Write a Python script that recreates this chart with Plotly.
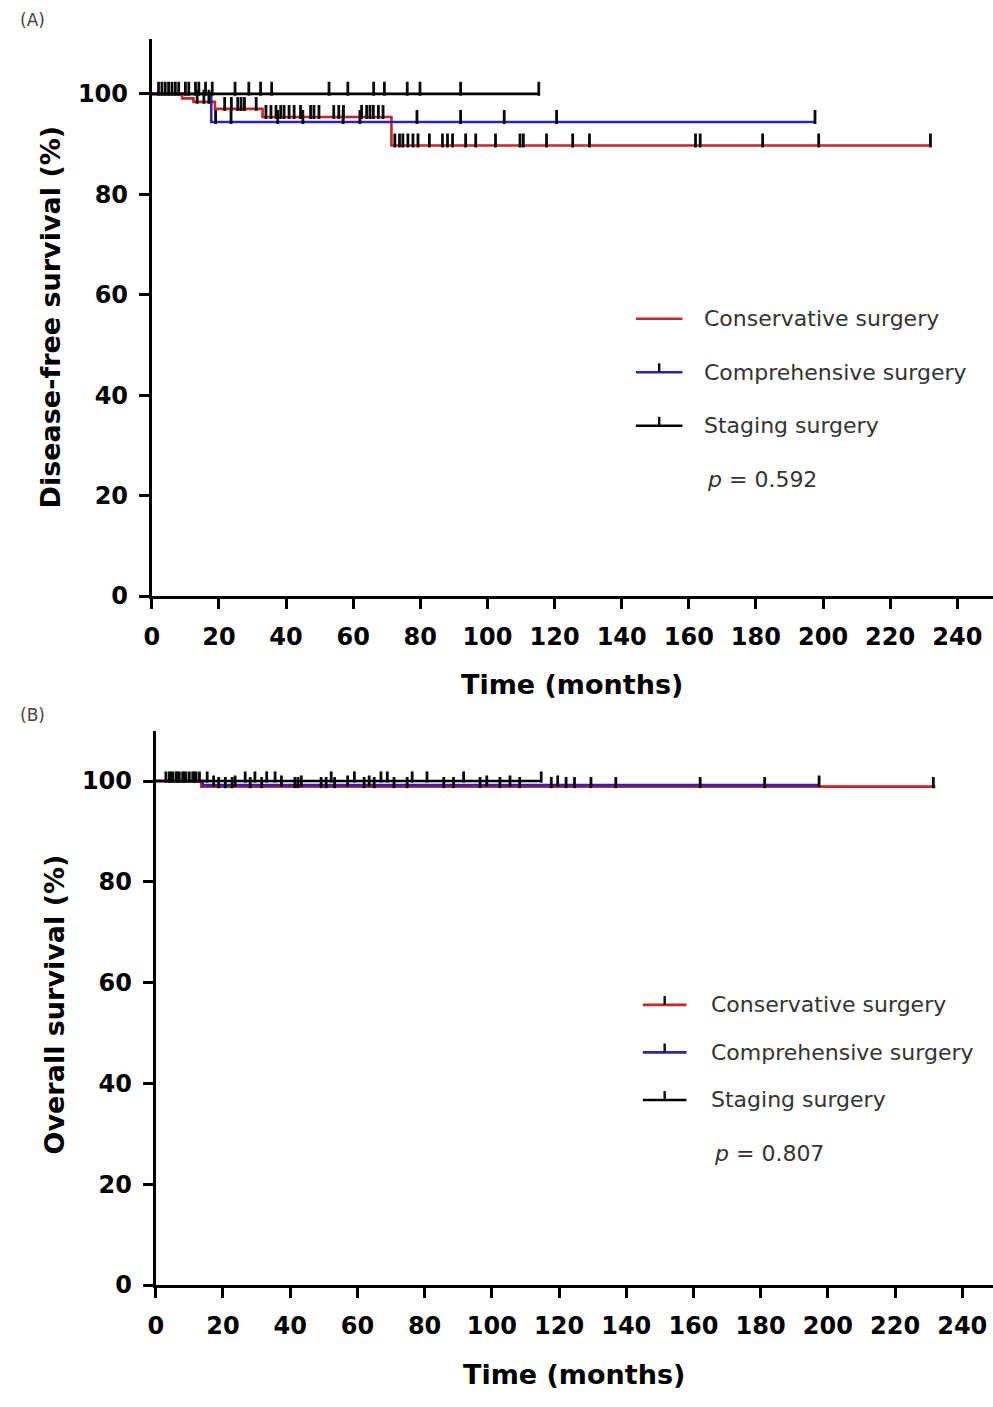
import plotly.graph_objects as go

W, H = 993, 1407

# ---------------- Panel A: Disease-free survival ----------------
a_cons_t = [0, 9, 12.4, 18.8, 33, 71.4, 232]
a_cons_s = [100, 99.1, 98.4, 97.0, 95.4, 89.7, 89.7]
a_comp_t = [0, 17.7, 197.6]
a_comp_s = [100, 94.4, 94.4]
a_stag_t = [0, 115.3]
a_stag_s = [100, 100]

a_cons_cens = [13.5, 15.5, 17, 21.7, 23.7, 25.6, 26.6, 27.6, 31.1,
               34.0, 35.5, 37.0, 38.4, 39.4, 40.9, 42.4, 44.3, 47.3, 48.3, 49.8,
               54.2, 55.7, 57.1, 62.5, 64.0, 65.0, 66.0, 67.5, 68.9,
               72.4, 73.8, 74.8, 76.3, 77.8, 79.3, 82.7, 86.6, 88.1, 89.6, 93.5,
               96.5, 102.4, 109.7, 110.7, 117.6, 125.4, 130.4, 162, 163.4, 182,
               198.7, 232]
a_comp_cens = [19, 23.6, 37.5, 45, 57, 62, 79, 92, 105, 120.6, 197.6]
a_stag_cens = [2, 3, 4, 5, 6, 7, 8, 10, 11, 13, 14, 16, 18,
               24.8, 28.9, 32.4, 35.7, 52.8, 58.4, 66.1, 69.3, 76.1, 79.9, 92.0, 115.3]

# ---------------- Panel B: Overall survival ----------------
b_cons_t = [0, 13.5, 232]
b_cons_s = [100, 98.9, 98.9]
b_comp_t = [0, 14, 197.4]
b_comp_s = [100, 99.2, 99.2]
b_stag_t = [0, 114.7]
b_stag_s = [100, 100]

b_cons_cens = [4.5, 6.5, 8.5, 11.5, 13, 18.7, 20.7, 22.7, 28.1, 31.5, 41.4, 42.3,
               49.2, 50.7, 53.2, 62, 65, 70.9, 74.8, 85.7, 88.6, 96.5, 102.4, 108.3,
               117.7, 122.1, 124.6, 129.5, 136.9, 162, 181.2, 231.4]
b_comp_cens = [17.2, 23.6, 37.4, 43.3, 57.1, 63.5, 98.5, 105.4, 119.6, 197.4]
b_stag_cens = [3, 4, 5, 6, 7, 8, 9, 10, 11, 12, 15.3, 26.6, 29.5, 33, 35.5, 52.2,
               59.1, 67, 68.9, 76.3, 80.7, 91.6, 114.7]

groups = ["Conservative surgery", "Comprehensive surgery", "Staging surgery"]
colors = ["#c8262c", "#2828a8", "#000000"]
tick_color = "#0a0a0a"
x_ticks = list(range(0, 241, 20))
y_ticks = list(range(0, 101, 20))
p_a = "0.592"
p_b = "0.807"

FONT = "DejaVu Sans"


def surv_at(ts, ss, t):
    v = ss[0]
    for ti, si in zip(ts, ss):
        if ti <= t:
            v = si
    return v


fig = go.Figure()

panels = [
    ("x", "y",
     [(a_cons_t, a_cons_s, a_cons_cens), (a_comp_t, a_comp_s, a_comp_cens), (a_stag_t, a_stag_s, a_stag_cens)],
     1.0, 10),
    ("x2", "y2",
     [(b_cons_t, b_cons_s, b_cons_cens), (b_comp_t, b_comp_s, b_comp_cens), (b_stag_t, b_stag_s, b_stag_cens)],
     0.8, 8),
]

for xa, ya, series, off, msize in panels:
    for (ts, ss, cens), name, col in zip(series, groups, colors):
        fig.add_trace(go.Scatter(
            x=ts, y=ss, mode="lines", line=dict(color=col, width=2.6, shape="hv"),
            xaxis=xa, yaxis=ya, showlegend=False, name=name, hoverinfo="skip"))
    for (ts, ss, cens), name, col in zip(series, groups, colors):
        ys = [surv_at(ts, ss, c) + off for c in cens]
        fig.add_trace(go.Scatter(
            x=cens, y=ys, mode="markers",
            marker=dict(symbol="line-ns", size=msize, line=dict(color=tick_color, width=2.8)),
            xaxis=xa, yaxis=ya, showlegend=False, name=name, hoverinfo="skip"))


def px(x):
    return x / W


def py(y):
    return 1 - y / H


axis_common = dict(
    showline=True, linewidth=3, linecolor="black", ticks="outside", ticklen=10,
    tickwidth=3, tickcolor="black", showgrid=False, zeroline=False,
    tickfont=dict(family=FONT, size=24, color="black", weight="bold"),
)

xa0, xa240 = 145, 957
xb0, xb240 = 149, 962
ra = 240 * (W - xa0) / (xa240 - xa0)
rb = 240 * (W - xb0) / (xb240 - xb0)

fig.update_layout(
    width=W, height=H, margin=dict(l=0, r=0, t=0, b=0),
    paper_bgcolor="white", plot_bgcolor="white", showlegend=False,
    xaxis=dict(domain=[px(xa0), 1], range=[0, ra], tickvals=x_ticks, anchor="y",
               ticklabelstandoff=7, **axis_common),
    yaxis=dict(domain=[py(602), py(39)], range=[0, 111], tickvals=y_ticks, anchor="x",
               ticklabelstandoff=6, **axis_common),
    xaxis2=dict(domain=[px(xb0), 1], range=[0, rb], tickvals=x_ticks, anchor="y2",
                ticklabelstandoff=7, **axis_common),
    yaxis2=dict(domain=[py(1298), py(738)], range=[0, 110], tickvals=y_ticks, anchor="x2",
                ticklabelstandoff=6, **axis_common),
)

ann = []
shapes = []


def text(x, y, s, size, bold=False, color="#222", angle=0, xanchor="center"):
    ann.append(dict(x=px(x), y=py(y), xref="paper", yref="paper", text=s, showarrow=False,
                    textangle=angle, xanchor=xanchor, yanchor="middle",
                    font=dict(family=FONT, size=size, color=color,
                              weight="bold" if bold else "normal")))


text(10, 20, "(A)", 17, color="#444", xanchor="left")
text(10, 722, "(B)", 17, color="#444", xanchor="left")

text(43, 320, "Disease-free survival (%)", 27, bold=True, color="black", angle=-90)
text(569, 691, "Time (months)", 27, bold=True, color="black")
text(47, 1015, "Overall survival (%)", 27, bold=True, color="black", angle=-90)
text(571, 1388, "Time (months)", 27, bold=True, color="black")


def legend(x0, x1, ys, tx, with_tick, p_y, p_x, pval):
    for yy, name, col, wt in zip(ys, groups, colors, with_tick):
        shapes.append(dict(type="line", xref="paper", yref="paper", x0=px(x0), x1=px(x1),
                           y0=py(yy), y1=py(yy), line=dict(color=col, width=2.6)))
        if wt:
            xm = (x0 + x1) / 2
            shapes.append(dict(type="line", xref="paper", yref="paper", x0=px(xm), x1=px(xm),
                               y0=py(yy), y1=py(yy - 9), line=dict(color=tick_color, width=2.4)))
        text(tx, yy, name, 22, color="#333", xanchor="left")
    text(p_x, p_y, "<i>p</i> = " + pval, 22, color="#333", xanchor="left")


legend(633, 680, [322, 376, 430], 700, [False, True, True], 484, 703, p_a)
legend(640, 684, [1015, 1063, 1111], 707, [True, True, True], 1165, 710, p_b)

fig.update_layout(annotations=ann, shapes=shapes)

css = ("document.documentElement.style.margin='0';document.documentElement.style.padding='0';"
       "document.documentElement.style.overflow='hidden';"
       "document.body.style.margin='0';document.body.style.padding='0';"
       "document.body.style.overflow='hidden';")
fig.write_html("out.html", post_script=css, config={"displayModeBar": False})
